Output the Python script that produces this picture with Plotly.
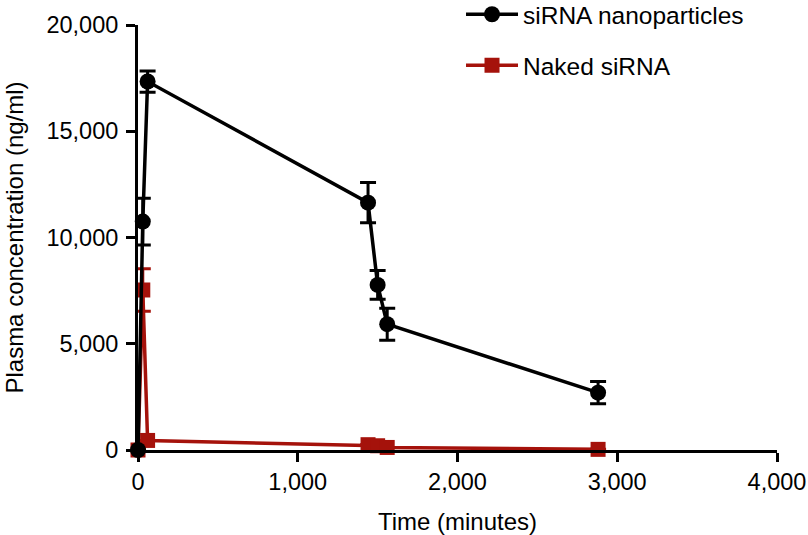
import plotly.graph_objects as go

time_np = [0, 30, 60, 1440, 1500, 1560, 2880]
conc_np = [0, 10750, 17340, 11640, 7770, 5920, 2700]
err_np = [0, 1100, 500, 950, 680, 750, 520]

time_naked = [0, 30, 60, 1440, 1500, 1560, 2880]
conc_naked = [0, 7530, 450, 250, 200, 120, 30]
err_naked = [0, 1000, 0, 0, 0, 0, 0]

BLACK = "#000000"
RED = "#a5120b"
FONT = "Arial, Liberation Sans, Helvetica, sans-serif"

fig = go.Figure()
fig.add_trace(go.Scatter(
    x=time_naked, y=conc_naked, name="Naked siRNA", mode="lines+markers",
    line=dict(color=RED, width=3.5),
    marker=dict(symbol="square", size=15, color=RED),
    error_y=dict(type="data", array=err_naked, color=RED, thickness=3, width=8),
    cliponaxis=False, legendrank=2, legendgroup="b",
))
fig.add_trace(go.Scatter(
    x=time_np, y=conc_np, name="siRNA nanoparticles", mode="lines+markers",
    line=dict(color=BLACK, width=3.5),
    marker=dict(symbol="circle", size=16, color=BLACK),
    error_y=dict(type="data", array=err_np, color=BLACK, thickness=3, width=8),
    cliponaxis=False, legendrank=1, legendgroup="a",
))

fig.update_layout(
    width=808, height=535,
    margin=dict(l=138, r=31, t=25, b=85, autoexpand=False),
    paper_bgcolor="white", plot_bgcolor="white",
    font=dict(family=FONT, size=24, color="black"),
    showlegend=True,
    legend=dict(x=0.5055, y=1.078, xanchor="left", yanchor="top",
                bgcolor="rgba(0,0,0,0)", font=dict(size=24.5),
                itemwidth=52, tracegroupgap=16, traceorder="grouped"),
    xaxis=dict(range=[0, 4000], tickvals=[0, 1000, 2000, 3000, 4000],
               ticktext=["0", "1,000", "2,000", "3,000", "4,000"],
               showgrid=False, zeroline=False, showline=True, linecolor="black",
               linewidth=3, ticks="outside", ticklen=9, tickwidth=3, tickcolor="black",
               tickfont=dict(size=23.5),
               title=dict(text="Time (minutes)", font=dict(size=24), standoff=19)),
    yaxis=dict(range=[0, 20000], tickvals=[0, 5000, 10000, 15000, 20000],
               ticktext=["0", "5,000", "10,000", "15,000", "20,000"],
               showgrid=False, zeroline=False, showline=True, linecolor="black",
               linewidth=3, ticks="outside", ticklen=9, tickwidth=3, tickcolor="black",
               tickfont=dict(size=23.5), ticklabelstandoff=3,
               title=dict(text="Plasma concentration (ng/ml)", font=dict(size=24), standoff=17)),
)

fig.write_html("out.html", config={"displayModeBar": False},
               post_script="document.body.style.margin='0';")
